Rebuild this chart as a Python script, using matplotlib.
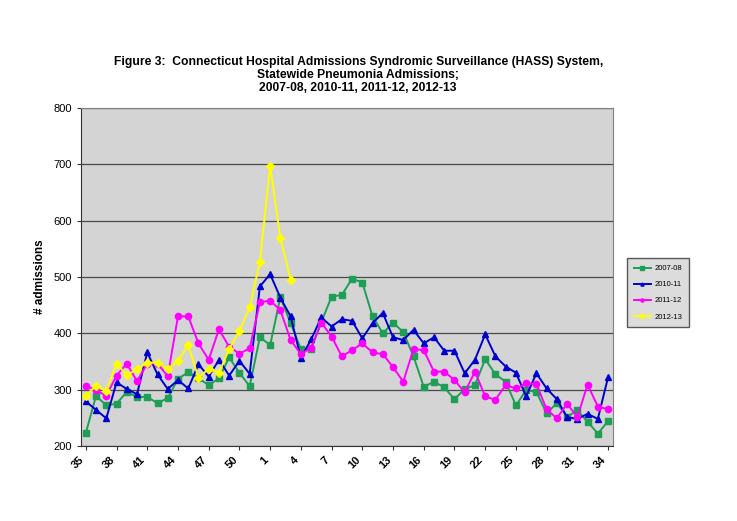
import numpy as np
import matplotlib
matplotlib.use('Agg')
import matplotlib.pyplot as plt

plt.rcParams['font.family'] = ['Liberation Sans', 'DejaVu Sans']

# flu weeks 35..52 then 1..34
weeks = list(range(35, 53)) + list(range(1, 35))

s0708 = [223, 289, 272, 275, 296, 287, 287, 276, 285, 319, 331, 320, 308, 320,
         357, 330, 306, 393, 379, 464, 418, 372, 372, 420, 465, 468, 497, 490,
         430, 400, 419, 402, 359, 305, 314, 304, 283, 301, 308, 354, 327, 314,
         272, 299, 296, 258, 276, 252, 263, 243, 222, 244]
s1011 = [279, 264, 249, 313, 301, 292, 366, 327, 301, 317, 302, 345, 323, 353,
         325, 351, 328, 483, 505, 463, 430, 356, 389, 428, 412, 425, 422, 391,
         418, 436, 393, 388, 406, 382, 393, 369, 369, 329, 353, 398, 359, 341,
         330, 288, 329, 302, 283, 251, 248, 257, 248, 322]
s1112 = [307, 299, 289, 325, 346, 315, 346, 346, 324, 430, 430, 382, 353, 407,
         376, 364, 373, 455, 458, 441, 388, 363, 374, 419, 394, 359, 370, 382,
         366, 363, 340, 314, 372, 370, 332, 332, 317, 295, 332, 288, 282, 308,
         302, 311, 310, 265, 249, 275, 251, 309, 270, 265]
s1213 = [289, 307, 298, 346, 326, 336, 348, 348, 336, 351, 379, 321, 337, 330,
         372, 404, 446, 527, 697, 569, 495]

series = [('2007-08', s0708, '#1f9e55', 's'),
          ('2010-11', s1011, '#0000cc', '^'),
          ('2011-12', s1112, '#ff00ff', 'o'),
          ('2012-13', s1213, '#ffff00', 'D')]

fig = plt.figure(figsize=(7.37, 5.21), dpi=100)
ax = fig.add_axes([0.1095, 0.144, 0.7225, 0.649])
ax.set_facecolor('#d4d4d4')

for name, vals, col, mk in series:
    x = np.arange(len(vals))
    ax.plot(x, vals, color=col, marker=mk, markersize=4.5, linewidth=1.4,
            label=name)

ax.set_xlim(-0.5, len(weeks) - 0.5)
ax.set_ylim(200, 800)
ax.set_yticks(range(200, 801, 100))
ax.yaxis.grid(True, color='#4a4a4a', linewidth=0.9)
ax.set_axisbelow(True)
ax.set_xticks(range(0, len(weeks), 3))
ax.set_xticklabels([str(w) for w in weeks[::3]], rotation=45,
                   ha='right', va='top', fontsize=8, fontweight='bold')
for lab in ax.get_yticklabels():
    lab.set_fontsize(8)
ax.tick_params(axis='both', length=3, color='#333333')
for sp in ['top', 'right']:
    ax.spines[sp].set_color('#808080')
ax.spines['left'].set_color('#333333')
ax.spines['bottom'].set_color('#333333')

ax.set_ylabel('# admissions', fontsize=8.5, fontweight='bold', labelpad=5)

fig.text(0.486, 0.856,
         'Figure 3:  Connecticut Hospital Admissions Syndromic Surveillance (HASS) System,\n'
         'Statewide Pneumonia Admissions;\n'
         '2007-08, 2010-11, 2011-12, 2012-13',
         ha='center', va='center', fontsize=8.75, fontweight='bold',
         linespacing=1.15)

leg = fig.legend(loc='upper left', bbox_to_anchor=(627 / 737, 1 - 258 / 521),
                 fontsize=5.5, frameon=True, fancybox=False, markerscale=0.5,
                 handlelength=2.2, handletextpad=0.5, borderpad=0.9,
                 labelspacing=1.15, borderaxespad=0)
leg.get_frame().set_facecolor('#d4d4d4')
leg.get_frame().set_edgecolor('#333333')

fig.savefig('out.png', dpi=100)
